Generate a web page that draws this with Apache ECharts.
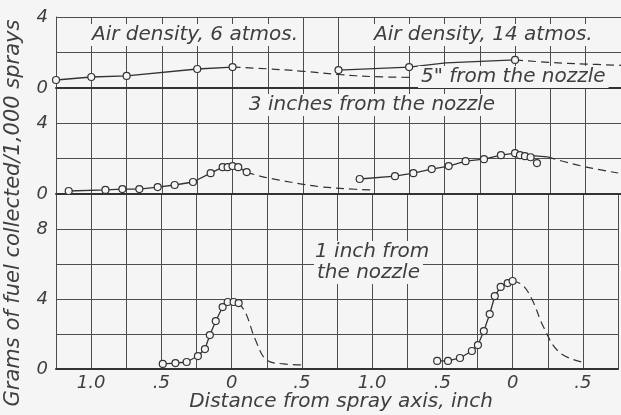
<!DOCTYPE html>
<html>
<head>
<meta charset="utf-8">
<script src="https://cdn.jsdelivr.net/npm/echarts@6/dist/echarts.min.js"></script>
<style>
html,body{margin:0;padding:0;background:#f5f5f5;}
#chart{width:621px;height:415px;}
</style>
</head>
<body>
<div id="chart"></div>
<script>
// ---- Data (distance from spray axis in inches; grams / 1,000 sprays) ----
// Offsets of each air-density group's zero on the shared distance axis
var leftZero = 1.25;   // Air density, 6 atmos.
var rightZero = 3.25;  // Air density, 14 atmos.

// 5" from the nozzle (top panel)
var top6X = [-1.25, -1.0, -0.75, -0.25, 0];
var top6Y = [0.45, 0.62, 0.68, 1.07, 1.18];
var top6DashX = [0, 0.25, 0.5, 0.75, 1.0, 1.25];
var top6DashY = [1.18, 1.08, 0.94, 0.76, 0.64, 0.6];
var top14X = [-1.25, -0.75, 0];
var top14Y = [1.01, 1.18, 1.58];
var top14LineX = [-1.25, -0.75, -0.49, 0];
var top14LineY = [1.01, 1.18, 1.41, 1.58];
var top14DashX = [0, 0.25, 0.5, 0.75];
var top14DashY = [1.58, 1.44, 1.35, 1.28];

// 3 inches from the nozzle (middle panel)
var mid6X = [-1.16, -0.90, -0.78, -0.66, -0.53, -0.41, -0.28, -0.155, -0.07, -0.035, 0, 0.04, 0.1];
var mid6Y = [0.17, 0.23, 0.28, 0.28, 0.39, 0.51, 0.68, 1.18, 1.52, 1.52, 1.58, 1.52, 1.24];
var mid6DashX = [0.1, 0.2, 0.33, 0.5, 0.61, 0.8, 1.0];
var mid6DashY = [1.24, 1.0, 0.79, 0.55, 0.42, 0.3, 0.22];
var mid14X = [-1.10, -0.85, -0.72, -0.59, -0.47, -0.35, -0.22, -0.10, 0, 0.035, 0.07, 0.11, 0.155];
var mid14Y = [0.85, 1.01, 1.18, 1.41, 1.58, 1.86, 1.97, 2.20, 2.31, 2.20, 2.14, 2.08, 1.75];
var mid14LineX = [-1.10, -0.85, -0.72, -0.59, -0.47, -0.35, -0.22, -0.10, 0, 0.07, 0.23];
var mid14LineY = [0.85, 1.01, 1.18, 1.41, 1.58, 1.86, 1.97, 2.20, 2.31, 2.2, 2.1];
var mid14DashX = [0.23, 0.4, 0.55, 0.73];
var mid14DashY = [2.1, 1.72, 1.45, 1.19];

// 1 inch from the nozzle (bottom panel)
var bot6X = [-0.49, -0.40, -0.32, -0.24, -0.19, -0.155, -0.113, -0.064, -0.028, 0.014, 0.05];
var bot6Y = [0.29, 0.34, 0.40, 0.74, 1.14, 1.94, 2.74, 3.54, 3.83, 3.83, 3.77];
var bot6DashX = [0.05, 0.1, 0.17, 0.25, 0.37, 0.5];
var bot6DashY = [3.77, 3.2, 1.66, 0.51, 0.29, 0.23];
var bot14X = [-0.537, -0.46, -0.375, -0.29, -0.247, -0.205, -0.163, -0.127, -0.085, -0.035, 0];
var bot14Y = [0.46, 0.46, 0.63, 1.03, 1.37, 2.17, 3.14, 4.17, 4.69, 4.91, 5.03];
var bot14DashX = [0, 0.07, 0.14, 0.22, 0.33, 0.49];
var bot14DashY = [5.03, 4.8, 3.94, 2.4, 0.97, 0.4];

// Tick labels
var xTickLabels = ['', '1.0', '', '.5', '', '0', '', '.5', '', '1.0', '', '.5', '', '0', '', '.5', ''];
var yTicksTop = ['0', '', '4'];
var yTicksMid = ['0', '', '4', ''];
var yTicksBot = ['0', '', '4', '', '8', ''];

// ---- Chart ----
var BG = '#f5f5f5';
var INK = '#333';
var GRID = '#4d4d4d';
var TXT = '#3f3f3f';
var FONT = '"DejaVu Sans ExtraLight", "DejaVu Sans", sans-serif';

function pts(xs, ys, off) { return xs.map(function (x, i) { return [x + off, ys[i]]; }); }

var grids = [
  { left: 56, width: 566, top: 17, height: 71 },
  { left: 56, width: 566, top: 88, height: 106 },
  { left: 56, width: 566, top: 194, height: 175 }
];
var yMax = [4, 6, 10];
var yLab = [yTicksTop, yTicksMid, yTicksBot];

var xAxes = [], yAxes = [];
for (var g = 0; g < 3; g++) {
  xAxes.push({
    gridIndex: g, type: 'value', min: 0, max: 4, interval: 0.25,
    axisLine: { show: true, onZero: false, lineStyle: { color: INK, width: 2 } },
    axisTick: { show: false },
    axisLabel: {
      show: g === 2, margin: 5, color: TXT, fontSize: 18, fontFamily: FONT, fontStyle: 'italic',
      formatter: function (v) { return xTickLabels[Math.round(v / 0.25)] || ''; }
    },
    splitLine: { show: true, lineStyle: { color: GRID, width: 1 } }
  });
  (function (gi) {
    yAxes.push({
      gridIndex: gi, type: 'value', min: 0, max: yMax[gi], interval: 2,
      axisLine: { show: true, lineStyle: { color: GRID, width: 1 } },
      axisTick: { show: false },
      axisLabel: {
        margin: 8, color: TXT, fontSize: 18, fontFamily: FONT, fontStyle: 'italic',
        formatter: function (v) { return yLab[gi][Math.round(v / 2)] || ''; }
      },
      splitLine: { show: true, lineStyle: { color: GRID, width: 1 } }
    });
  })(g);
}

var series = [];
function addCurve(gi, lineData, dashData, circleData) {
  series.push({
    type: 'line', xAxisIndex: gi, yAxisIndex: gi, data: lineData, symbol: 'none',
    lineStyle: { color: INK, width: 1.3 }, z: 3, silent: true, animation: false
  });
  series.push({
    type: 'line', xAxisIndex: gi, yAxisIndex: gi, data: dashData, symbol: 'none', smooth: 0.4,
    lineStyle: { color: INK, width: 1.2, type: [8, 5] }, z: 3, silent: true, animation: false
  });
  series.push({
    type: 'scatter', xAxisIndex: gi, yAxisIndex: gi, data: circleData, symbol: 'circle', symbolSize: 7,
    itemStyle: { color: BG, borderColor: INK, borderWidth: 1.2, opacity: 1 }, z: 4, silent: true, animation: false
  });
}
addCurve(0, pts(top6X, top6Y, leftZero), pts(top6DashX, top6DashY, leftZero), pts(top6X, top6Y, leftZero));
addCurve(0, pts(top14LineX, top14LineY, rightZero), pts(top14DashX, top14DashY, rightZero), pts(top14X, top14Y, rightZero));
addCurve(1, pts(mid6X, mid6Y, leftZero), pts(mid6DashX, mid6DashY, leftZero), pts(mid6X, mid6Y, leftZero));
addCurve(1, pts(mid14LineX, mid14LineY, rightZero), pts(mid14DashX, mid14DashY, rightZero), pts(mid14X, mid14Y, rightZero));
addCurve(2, pts(bot6X, bot6Y, leftZero), pts(bot6DashX, bot6DashY, leftZero), pts(bot6X, bot6Y, leftZero));
addCurve(2, pts(bot14X, bot14Y, rightZero), pts(bot14DashX, bot14DashY, rightZero), pts(bot14X, bot14Y, rightZero));

function txt(x, y, s, size, align) {
  return {
    type: 'text', x: x, y: y, z: 10,
    style: {
      text: s, fill: TXT, fontSize: size, fontFamily: FONT, fontStyle: 'italic',
      textAlign: align || 'left', textVerticalAlign: 'middle',
      backgroundColor: BG, padding: [1, 3]
    }
  };
}

var option = {
  backgroundColor: BG,
  animation: false,
  grid: grids,
  xAxis: xAxes,
  yAxis: yAxes,
  series: series,
  graphic: [
    txt(89, 35, 'Air density, 6 atmos.', 20),
    txt(371, 35, 'Air density, 14 atmos.', 20),
    txt(418, 77, '5" from the nozzle', 20),
    txt(372, 105, '3 inches from the nozzle', 20, 'center'),
    txt(312, 252, '1 inch from', 20),
    txt(314, 273, 'the nozzle', 20),
    {
      type: 'text', x: 14, y: 213, rotation: Math.PI / 2, z: 10,
      style: { text: 'Grams of fuel collected/1,000 sprays', fill: TXT, fontSize: 21, fontFamily: FONT,
        fontStyle: 'italic', textAlign: 'center', textVerticalAlign: 'middle' }
    },
    {
      type: 'text', x: 341, y: 402, z: 10,
      style: { text: 'Distance from spray axis, inch', fill: TXT, fontSize: 20, fontFamily: FONT,
        fontStyle: 'italic', textAlign: 'center', textVerticalAlign: 'middle' }
    }
  ]
};

var chart = echarts.init(document.getElementById('chart'), null, { renderer: 'canvas' });
chart.setOption(option);
</script>
</body>
</html>
